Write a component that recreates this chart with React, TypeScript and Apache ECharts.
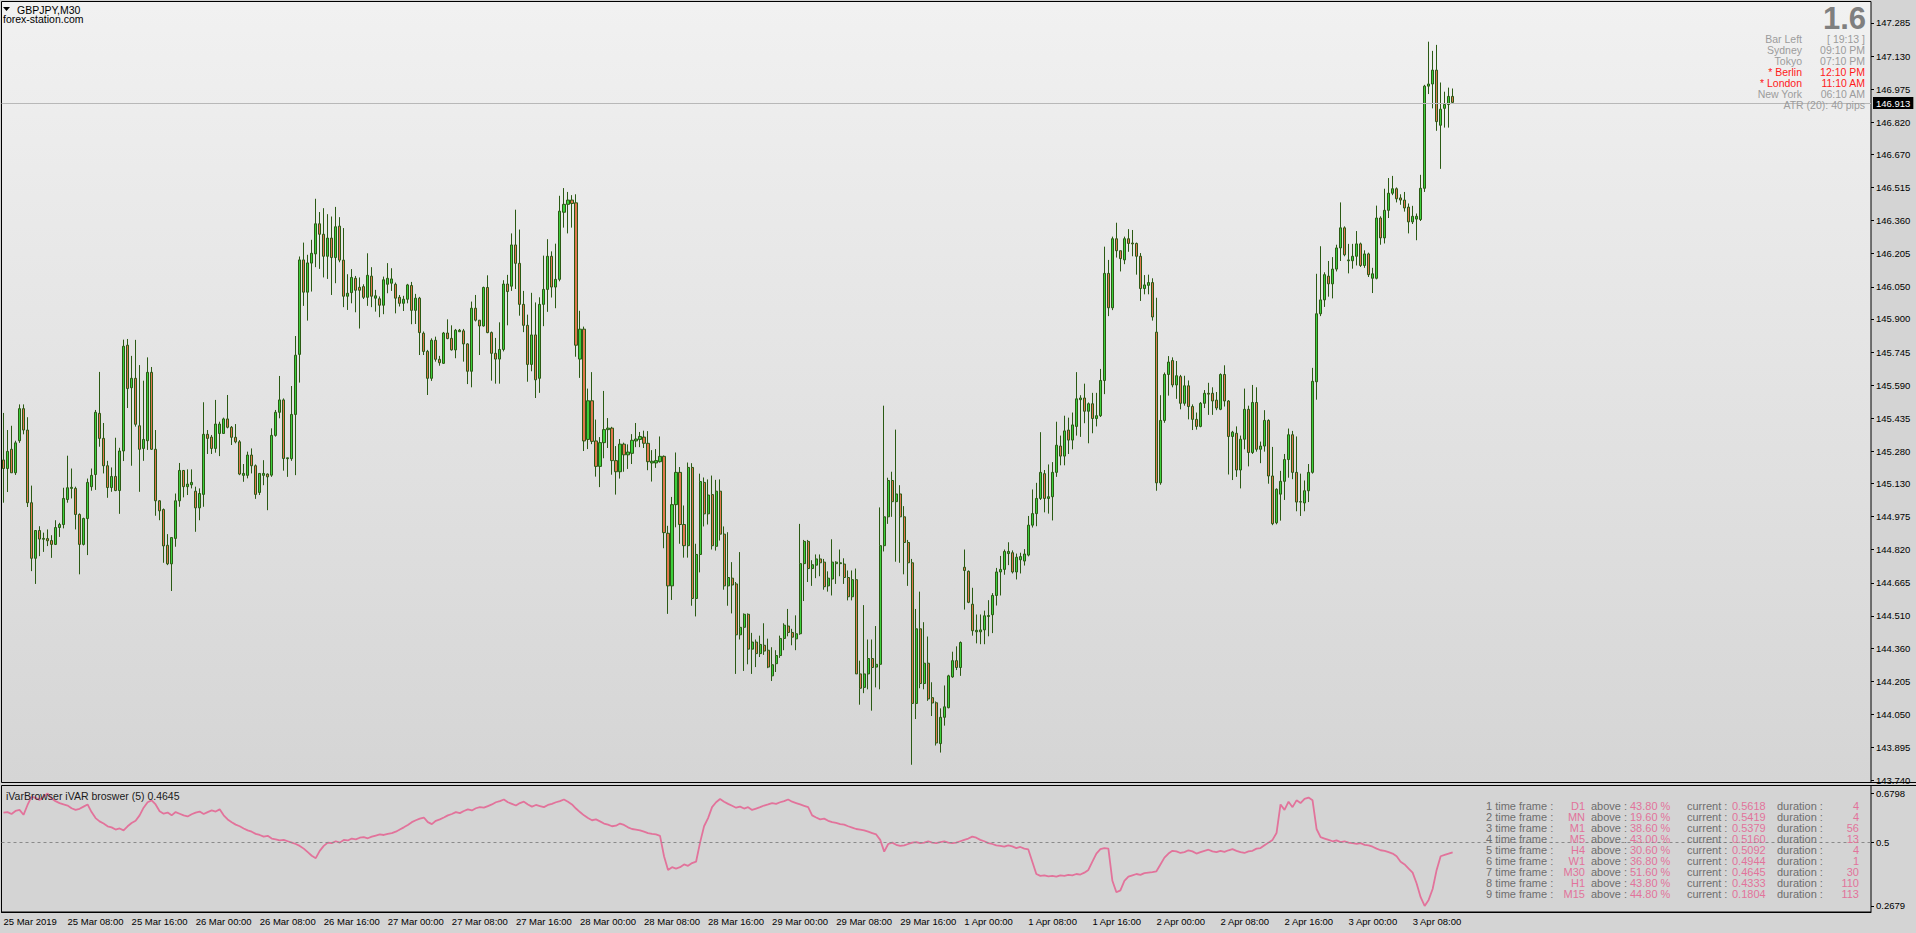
import React, { useEffect, useRef } from "react";
import * as echarts from "echarts";

// ---------- DATA ----------
// OHLC candles per trading day: [open, high, low, close]
const mar25: number[][] = [
  [145.24,145.46,145.04,145.20],[145.20,145.38,145.09,145.28],[145.29,145.40,145.18,145.18],[145.18,145.33,145.17,145.32],
  [145.33,145.50,145.32,145.48],[145.48,145.50,145.36,145.38],[145.38,145.44,145.02,145.04],[145.04,145.12,144.72,144.78],
  [144.78,144.91,144.66,144.91],[144.91,144.93,144.79,144.87],[144.869,144.90,144.81,144.873],[144.872,144.915,144.837,144.862],
  [144.863,144.888,144.782,144.845],[144.845,144.958,144.842,144.924],[144.924,144.946,144.880,144.938],[144.938,145.11,144.92,145.06],
  [145.055,145.26,145.04,145.11],[145.107,145.20,145.06,145.112],[145.107,145.115,144.915,144.985],[144.985,144.99,144.705,144.845],
  [144.845,144.97,144.84,144.966],[144.966,145.153,144.795,145.135],[145.115,145.20,145.096,145.168],[145.172,145.474,145.10,145.463],
  [145.458,145.652,145.302,145.341],[145.341,145.413,145.177,145.213],[145.213,145.236,145.063,145.111],[145.111,145.205,145.091,145.163],
  [145.163,145.344,145.094,145.097],[145.097,145.297,144.988,145.282],[145.282,145.803,145.235,145.772],[145.777,145.806,145.483,145.574],
  [145.578,145.727,145.213,145.622],[145.622,145.802,145.396,145.407],[145.40,145.684,145.091,145.29],[145.294,145.611,145.236,145.336],
  [145.33,145.72,145.287,145.65],[145.65,145.675,145.287,145.29],[145.29,145.38,144.979,145.049],[145.049,145.052,144.958,145.002],
  [145.008,145.013,144.759,144.838],[144.841,144.893,144.748,144.754],[144.754,144.877,144.627,144.877],[144.873,145.083,144.834,145.049],
  [145.049,145.226,145.021,145.191],[145.191,145.193,145.065,145.115],[145.115,145.196,145.076,145.127],[145.124,145.196,145.107,145.135],
];
const mar26: number[][] = [
  [145.094,145.115,144.904,145.016],[145.016,145.107,144.958,145.083],[145.079,145.51,145.021,145.36],[145.36,145.38,145.268,145.341],
  [145.347,145.357,145.268,145.294],[145.294,145.521,145.274,145.408],[145.364,145.419,145.258,145.408],[145.364,145.438,145.364,145.432],
  [145.432,145.544,145.388,145.393],[145.393,145.399,145.31,145.346],[145.346,145.408,145.318,145.325],[145.325,145.333,145.169,145.174],
  [145.168,145.221,145.138,145.177],[145.168,145.279,145.154,145.263],[145.263,145.294,145.177,145.213],[145.213,145.219,145.058,145.079],
  [145.088,145.177,145.076,145.177],[145.168,145.239,145.122,145.177],[145.174,145.177,145.005,145.161],[145.169,145.388,145.161,145.355],
  [145.355,145.474,145.349,145.463],[145.463,145.633,145.435,145.521],[145.521,145.528,145.19,145.247],[145.246,145.25,145.161,145.25],
  [145.246,145.586,145.236,145.453],[145.453,145.82,145.169,145.73],[145.734,146.192,145.602,146.176],[146.176,146.257,145.961,146.025],
  [146.025,146.20,145.892,146.162],[146.161,146.27,146.028,146.207],[146.204,146.462,146.142,146.345],[146.345,146.40,146.134,146.296],
  [146.296,146.418,146.094,146.193],[146.193,146.39,146.087,146.278],[146.278,146.379,146.012,146.187],[146.187,146.424,146.067,146.331],
  [146.334,146.376,146.165,146.175],[146.175,146.325,145.955,146.006],[146.006,146.109,145.942,146.02],[146.023,146.133,145.973,146.094],
  [146.09,146.101,145.931,146.034],[146.048,146.094,145.855,146.034],[146.051,146.062,145.993,146.001],[146.001,146.207,145.961,146.104],
  [146.10,146.142,145.955,146.006],[145.997,146.036,145.934,146.008],[145.994,146.005,145.908,145.964],[145.964,146.098,145.922,146.083],
];
const mar27: number[][] = [
  [146.062,146.161,146.02,146.09],[146.067,146.137,146.031,146.087],[146.062,146.07,145.926,145.997],[146.001,146.012,145.958,145.973],
  [145.973,146.008,145.937,145.992],[145.992,146.064,145.973,146.059],[146.056,146.073,145.875,145.94],[145.94,146.017,145.876,145.997],
  [145.997,146.003,145.731,145.836],[145.833,145.841,145.731,145.748],[145.748,145.755,145.544,145.622],[145.622,145.809,145.61,145.80],
  [145.80,145.817,145.70,145.711],[145.711,145.727,145.681,145.695],[145.692,145.839,145.689,145.834],[145.834,145.898,145.805,145.808],
  [145.809,145.87,145.752,145.755],[145.755,145.853,145.716,145.847],[145.84,145.853,145.84,145.847],[145.844,145.853,145.70,145.783],
  [145.783,145.786,145.595,145.655],[145.655,145.981,145.58,145.95],[145.95,146.012,145.888,145.894],[145.894,145.894,145.731,145.867],
  [145.867,146.051,145.864,146.047],[146.047,146.104,145.833,145.836],[145.836,145.841,145.611,145.739],[145.739,145.811,145.597,145.712],
  [145.712,145.884,145.597,145.757],[145.757,146.081,145.748,146.063],[146.063,146.106,145.87,146.028],[146.053,146.30,146.031,146.246],
  [146.246,146.411,146.04,146.16],[146.16,146.318,145.915,145.968],[145.968,146.031,145.838,145.87],[145.87,145.92,145.606,145.687],
  [145.687,146.022,145.655,145.825],[145.825,145.977,145.53,145.615],[145.622,146.001,145.554,145.968],[145.968,146.196,145.866,146.038],
  [146.038,146.273,145.933,146.193],[146.193,146.216,146.0,146.049],[146.049,146.252,145.95,146.085],[146.085,146.476,146.076,146.404],
  [146.399,146.512,146.327,146.436],[146.436,146.494,146.30,146.456],[146.456,146.479,146.327,146.44],[146.443,146.483,145.723,145.777],
];
const mar28: number[][] = [
  [145.712,145.938,145.624,145.852],[145.852,145.864,145.282,145.329],[145.336,145.574,145.291,145.517],[145.517,145.651,145.314,145.327],
  [145.329,145.429,145.162,145.21],[145.21,145.347,145.113,145.321],[145.321,145.563,145.248,145.382],[145.382,145.436,145.296,145.389],
  [145.389,145.395,145.171,145.237],[145.237,145.305,145.078,145.185],[145.185,145.338,145.153,145.314],[145.314,145.321,145.185,145.264],
  [145.264,145.313,145.198,145.277],[145.271,145.361,145.221,145.332],[145.329,145.413,145.30,145.338],[145.336,145.371,145.30,145.35],
  [145.347,145.377,145.296,145.318],[145.318,145.375,145.192,145.232],[145.226,145.286,145.139,145.234],[145.226,145.291,145.203,145.237],
  [145.232,145.35,145.228,145.257],[145.257,145.261,144.827,144.90],[144.897,144.932,144.52,144.651],[144.651,145.067,144.585,145.031],
  [145.031,145.275,144.925,145.182],[145.182,145.207,144.848,144.938],[144.938,145.027,144.783,144.839],[144.839,145.228,144.783,145.205],
  [145.205,145.225,144.558,144.592],[144.592,144.848,144.508,144.798],[144.798,145.176,144.714,145.139],[145.135,145.158,144.929,144.988],
  [144.988,145.149,144.938,145.076],[145.078,145.167,144.821,144.839],[144.836,145.147,144.816,145.094],[145.094,145.149,144.863,144.893],
  [144.893,144.929,144.633,144.651],[144.651,144.902,144.558,144.69],[144.687,144.762,144.522,144.655],[144.66,144.669,144.239,144.422],
  [144.422,144.809,144.40,144.457],[144.457,144.522,144.253,144.518],[144.518,144.522,144.284,144.355],[144.355,144.431,144.239,144.388],
  [144.388,144.40,144.271,144.334],[144.334,144.418,144.318,144.377],[144.373,144.476,144.328,144.346],[144.35,144.404,144.266,144.271],
];
const mar29: number[][] = [
  [144.23,144.364,144.206,144.282],[144.287,144.35,144.248,144.325],[144.325,144.418,144.314,144.405],[144.405,144.476,144.35,144.467],
  [144.463,144.543,144.415,144.433],[144.433,144.45,144.373,144.411],[144.403,144.513,144.35,144.427],[144.427,144.941,144.422,144.755],
  [144.755,144.866,144.58,144.859],[144.859,144.866,144.669,144.732],[144.732,144.771,144.651,144.75],[144.748,144.798,144.687,144.777],
  [144.777,144.798,144.696,144.759],[144.762,144.777,144.633,144.647],[144.651,144.719,144.624,144.687],[144.683,144.869,144.606,144.762],
  [144.755,144.766,144.66,144.762],[144.755,144.821,144.696,144.759],[144.753,144.78,144.66,144.69],[144.69,144.723,144.583,144.60],
  [144.60,144.723,144.583,144.68],[144.68,144.732,144.239,144.239],[144.239,144.301,144.095,144.172],[144.176,144.561,144.149,144.239],
  [144.239,144.40,144.167,144.311],[144.311,144.40,144.067,144.269],[144.271,144.463,144.176,144.284],[144.284,145.018,144.167,144.839],
  [144.839,145.494,144.812,144.974],[144.974,145.157,144.941,145.144],[145.144,145.185,144.974,145.045],[145.045,145.382,144.764,145.081],
  [145.081,145.122,144.759,144.974],[144.974,145.024,144.705,144.854],[144.854,144.866,144.651,144.759],[144.759,144.777,143.814,144.101],
  [144.101,144.543,144.028,144.45],[144.45,144.624,144.172,144.194],[144.194,144.481,144.167,144.289],[144.289,144.414,144.113,144.122],
  [144.128,144.20,144.042,144.103],[144.104,144.11,143.904,143.916],[143.913,144.078,143.871,144.036],[144.036,144.185,143.997,144.085],
  [144.081,144.235,144.078,144.23],[144.225,144.343,144.221,144.301],[144.301,144.368,144.257,144.269],[144.269,144.391,144.23,144.386],
];
const apr01: number[][] = [
  [144.738,144.821,144.54,144.723],[144.719,144.723,144.57,144.574],[144.565,144.642,144.418,144.441],[144.436,144.517,144.382,144.443],
  [144.436,144.517,144.378,144.445],[144.445,144.535,144.378,144.511],[144.508,144.584,144.415,144.512],[144.516,144.617,144.43,144.606],
  [144.606,144.735,144.559,144.716],[144.716,144.791,144.606,144.728],[144.728,144.821,144.703,144.812],[144.802,144.855,144.748,144.812],
  [144.806,144.817,144.709,144.716],[144.716,144.802,144.681,144.785],[144.773,144.806,144.709,144.788],[144.767,144.823,144.746,144.80],
  [144.795,144.978,144.789,144.935],[144.935,145.102,144.924,144.989],[144.989,145.133,144.93,145.06],[145.06,145.37,145.053,145.182],
  [145.176,145.193,144.995,145.06],[145.06,145.219,144.989,145.068],[145.068,145.23,144.957,145.182],[145.182,145.419,145.161,145.309],
  [145.305,145.354,145.215,145.258],[145.258,145.447,145.215,145.376],[145.38,145.438,145.268,145.333],[145.333,145.462,145.29,145.404],
  [145.397,145.651,145.354,145.526],[145.522,145.543,145.348,145.53],[145.53,145.597,145.412,145.468],[145.468,145.509,145.318,145.503],
  [145.503,145.554,145.365,145.434],[145.434,145.554,145.397,145.447],[145.447,145.666,145.441,145.612],[145.612,146.238,145.548,146.113],
  [146.113,146.176,145.913,145.952],[145.952,146.285,145.941,146.275],[146.275,146.35,146.187,146.219],[146.219,146.219,146.122,146.182],
  [146.176,146.285,146.156,146.275],[146.275,146.32,146.214,146.253],[146.255,146.316,146.193,146.251],[146.253,146.257,146.107,146.193],
  [146.193,146.208,145.984,146.042],[146.042,146.105,146.015,146.059],[146.057,146.107,146.015,146.07],[146.07,146.09,145.892,145.909],
];
const apr02: number[][] = [
  [145.838,145.999,145.096,145.133],[145.133,145.543,145.124,145.425],[145.425,145.649,145.414,145.64],[145.64,145.726,145.541,145.698],
  [145.705,145.72,145.58,145.591],[145.591,145.703,145.526,145.634],[145.63,145.638,145.477,145.505],[145.505,145.634,145.494,145.587],
  [145.587,145.612,145.43,145.49],[145.49,145.50,145.38,145.43],[145.43,145.462,145.382,145.397],[145.397,145.511,145.393,145.505],
  [145.505,145.567,145.483,145.552],[145.552,145.601,145.451,145.548],[145.552,145.58,145.451,145.516],[145.52,145.558,145.473,145.483],
  [145.477,145.645,145.473,145.64],[145.64,145.683,145.49,145.516],[145.516,145.52,145.172,145.35],[145.35,145.376,145.146,145.37],
  [145.365,145.397,145.161,145.193],[145.193,145.354,145.107,145.337],[145.337,145.574,145.29,145.477],[145.477,145.494,145.21,145.275],
  [145.275,145.591,145.268,145.509],[145.509,145.58,145.279,145.29],[145.29,145.326,145.225,145.305],[145.305,145.473,145.279,145.425],
  [145.425,145.43,145.129,145.165],[145.165,145.301,144.935,144.942],[144.946,145.107,144.939,145.103],[145.08,145.189,144.956,145.14],
  [145.14,145.268,145.053,145.242],[145.242,145.387,145.157,145.358],[145.358,145.376,145.15,145.182],[145.182,145.35,145.0,145.043],
  [145.043,145.176,144.978,145.045],[145.039,145.144,145.0,145.096],[145.096,145.221,145.043,145.182],[145.182,145.671,145.176,145.608],
  [145.606,146.111,145.522,145.924],[145.924,146.24,145.913,145.989],[145.989,146.118,145.956,146.107],[146.10,146.171,146.004,146.064],
  [146.064,146.189,145.996,146.133],[146.133,146.247,146.122,146.232],[146.232,146.445,146.171,146.326],[146.326,146.333,146.193,146.20],
];
const apr03: number[][] = [
  [146.172,146.251,146.113,146.176],[146.172,146.251,146.135,146.193],[146.193,146.311,146.15,146.251],[146.251,146.257,146.143,146.15],
  [146.15,146.221,146.139,146.204],[146.204,146.21,146.096,146.107],[146.09,146.139,146.021,146.111],[146.09,146.43,146.085,146.372],
  [146.372,146.38,146.247,146.279],[146.279,146.509,146.253,146.408],[146.408,146.559,146.372,146.488],[146.488,146.569,146.479,146.509],
  [146.509,146.515,146.445,146.462],[146.466,146.483,146.434,146.456],[146.456,146.494,146.402,146.419],[146.423,146.44,146.30,146.354],
  [146.354,146.429,146.344,146.38],[146.367,146.393,146.268,146.38],[146.365,146.574,146.358,146.511],[146.511,146.995,146.494,146.989],
  [146.989,147.197,146.952,146.999],[146.999,147.154,146.885,147.064],[147.064,147.182,146.78,146.823],[146.806,147.006,146.602,146.881],
  [146.885,146.963,146.795,146.903],[146.903,146.982,146.795,146.941],[146.941,146.978,146.907,146.913],
];

// iVAR browser indicator values, per trading day
const ivarMar25 = [0.61,0.612,0.605,0.616,0.62,0.602,0.638,0.668,0.664,0.656,0.668,0.6798,0.662,0.652,0.645,0.64,0.636,0.626,0.62,0.624,0.632,0.64,0.612,0.59,0.578,0.57,0.56,0.556,0.548,0.552,0.545,0.56,0.572,0.58,0.6,0.628,0.648,0.655,0.64,0.615,0.606,0.61,0.6,0.612,0.606,0.6,0.596,0.604];
const ivarMar26 = [0.61,0.614,0.605,0.612,0.618,0.614,0.622,0.6,0.585,0.575,0.566,0.56,0.552,0.545,0.54,0.532,0.528,0.522,0.525,0.515,0.512,0.508,0.51,0.505,0.5,0.495,0.488,0.478,0.465,0.452,0.443,0.47,0.488,0.5,0.498,0.505,0.5,0.51,0.508,0.515,0.512,0.518,0.52,0.516,0.522,0.526,0.53,0.528];
const ivarMar27 = [0.532,0.535,0.54,0.548,0.556,0.565,0.575,0.582,0.588,0.592,0.575,0.568,0.58,0.585,0.592,0.6,0.605,0.612,0.608,0.616,0.622,0.618,0.626,0.63,0.628,0.634,0.64,0.648,0.652,0.658,0.648,0.642,0.636,0.645,0.65,0.64,0.632,0.638,0.634,0.63,0.638,0.642,0.648,0.652,0.658,0.65,0.64,0.625];
const ivarMar28 = [0.612,0.6,0.59,0.582,0.585,0.578,0.57,0.566,0.56,0.562,0.57,0.565,0.556,0.55,0.548,0.545,0.54,0.535,0.532,0.53,0.525,0.45,0.4,0.41,0.405,0.41,0.42,0.415,0.425,0.43,0.5,0.56,0.59,0.63,0.648,0.66,0.65,0.642,0.635,0.628,0.632,0.625,0.63,0.62,0.625,0.63,0.636,0.64];
const ivarMar29 = [0.645,0.642,0.648,0.652,0.658,0.65,0.645,0.64,0.635,0.63,0.6,0.592,0.585,0.588,0.58,0.575,0.572,0.568,0.566,0.56,0.555,0.55,0.548,0.545,0.54,0.535,0.53,0.51,0.467,0.495,0.5,0.492,0.488,0.49,0.495,0.5,0.502,0.498,0.5,0.505,0.5,0.498,0.502,0.505,0.5,0.498,0.5,0.505];
const ivarApr01 = [0.51,0.515,0.522,0.518,0.51,0.505,0.498,0.495,0.49,0.488,0.485,0.49,0.486,0.48,0.484,0.478,0.475,0.43,0.385,0.378,0.38,0.376,0.378,0.375,0.38,0.378,0.382,0.38,0.385,0.383,0.39,0.4,0.43,0.46,0.476,0.48,0.478,0.36,0.318,0.325,0.36,0.375,0.38,0.385,0.382,0.388,0.39,0.392];
const ivarApr02 = [0.395,0.42,0.445,0.46,0.47,0.468,0.462,0.465,0.472,0.468,0.46,0.465,0.47,0.474,0.468,0.465,0.47,0.466,0.472,0.476,0.47,0.465,0.462,0.468,0.47,0.478,0.48,0.49,0.5,0.51,0.535,0.64,0.62,0.65,0.63,0.655,0.645,0.66,0.665,0.655,0.55,0.52,0.515,0.51,0.505,0.508,0.502,0.505];
const ivarApr03 = [0.5,0.498,0.495,0.498,0.492,0.49,0.485,0.478,0.472,0.47,0.465,0.46,0.45,0.43,0.42,0.405,0.39,0.35,0.3,0.2679,0.29,0.33,0.4,0.45,0.455,0.46,0.4645];

// Axis tick labels
const priceTickLabels = ["143.740","143.895","144.050","144.205","144.360","144.510","144.665","144.820","144.975","145.130","145.280","145.435","145.590","145.745","145.900","146.050","146.205","146.360","146.515","146.670","146.820","146.975","147.130","147.285"];
const ivarTickLabels = ["0.2679", "0.5", "0.6798"];
const tradingDays = ["25 Mar", "26 Mar", "27 Mar", "28 Mar", "29 Mar", "1 Apr", "2 Apr", "3 Apr", "4 Apr", "5 Apr"];
const firstLabel = "25 Mar 2019";

// Info panel
const spreadText = "1.6";
const sessionNames = ["Bar Left", "Sydney", "Tokyo", "* Berlin", "* London", "New York"];
const sessionTimes = ["[ 19:13 ]", "09:10 PM", "07:10 PM", "12:10 PM", "11:10 AM", "06:10 AM"];
const sessionActive = [false, false, false, true, true, false];
const atrText = "ATR (20): 40 pips";

// iVAR table
const tfNames = ["D1", "MN", "M1", "M5", "H4", "W1", "M30", "H1", "M15"];
const abovePct = ["43.80 %", "19.60 %", "38.60 %", "43.00 %", "30.60 %", "36.80 %", "51.60 %", "43.80 %", "44.80 %"];
const currentVals = ["0.5618", "0.5419", "0.5379", "0.5160", "0.5092", "0.4944", "0.4645", "0.4333", "0.1804"];
const durations = ["4", "4", "56", "13", "4", "1", "30", "110", "113"];

// ---------- BUILD ----------
const candles = [...mar25, ...mar26, ...mar27, ...mar28, ...mar29, ...apr01, ...apr02, ...apr03];
const ivar = [...ivarMar25, ...ivarMar26, ...ivarMar27, ...ivarMar28, ...ivarMar29, ...ivarApr01, ...ivarApr02, ...ivarApr03];
const N_SLOTS = 467;
const categories = Array.from({ length: N_SLOTS }, (_, i) => {
  if (i === 0) return firstLabel;
  const d = tradingDays[Math.floor(i / 48)];
  const m = (i % 48) * 30;
  const hh = String(Math.floor(m / 60)).padStart(2, "0");
  const mm = String(m % 60).padStart(2, "0");
  return `${d} ${hh}:${mm}`;
});
const lastClose = candles[candles.length - 1][3];
const lastIvar = ivar[ivar.length - 1];

const FONT = '"Liberation Sans", Arial, sans-serif';
const GREY = "#9c9c9c";
const PINK = "#e2739b";
const TGREY = "#6e6e6e";

function txt(text: string, x: number, y: number, fill: string, size: number, align = "left", bold = false) {
  return {
    type: "text",
    x,
    y,
    z: 100,
    silent: true,
    style: {
      text,
      fill,
      font: `${bold ? "bold " : ""}${size}px ${FONT}`,
      textAlign: align,
      textVerticalAlign: "middle",
    },
  };
}

export default function App() {
  const ref = useRef<HTMLDivElement>(null);
  useEffect(() => {
    if (!ref.current) return;
    const chart = echarts.init(ref.current, null, { renderer: "svg" });
    const tickFn = (idx: number) => idx % 16 === 0 && idx < candles.length;

    const graphics: any[] = [];
    graphics.push({
      type: "polygon",
      z: 100,
      silent: true,
      shape: { points: [[3, 7], [10, 7], [6.5, 11]] },
      style: { fill: "#000" },
    });
    graphics.push(txt("GBPJPY,M30", 17, 9.5, "#000", 10.5));
    graphics.push(txt("forex-station.com", 3, 18.5, "#000", 10.5));
    graphics.push(txt(spreadText, 1866, 18, "#7f7f7f", 31, "right", true));
    sessionNames.forEach((n, k) => {
      const y = 39 + k * 10.9;
      const col = sessionActive[k] ? "#ff1a1a" : GREY;
      graphics.push(txt(n, 1802, y, col, 10.5, "right"));
      graphics.push(txt(sessionTimes[k], 1865, y, col, 10.5, "right"));
    });
    graphics.push(txt(atrText, 1865, 105, GREY, 10.5, "right"));
    graphics.push(txt(`iVarBrowser iVAR broswer (5) ${lastIvar}`, 6, 795.5, "#1a1a1a", 10.5));
    tfNames.forEach((tf, k) => {
      const y = 805.7 + k * 11;
      graphics.push(txt(`${k + 1} time frame :`, 1486, y, TGREY, 11));
      graphics.push(txt(tf, 1585, y, PINK, 11, "right"));
      graphics.push(txt("above :", 1591, y, TGREY, 11));
      graphics.push(txt(abovePct[k], 1630, y, PINK, 11));
      graphics.push(txt("current :", 1687, y, TGREY, 11));
      graphics.push(txt(currentVals[k], 1732, y, PINK, 11));
      graphics.push(txt("duration :", 1777, y, TGREY, 11));
      graphics.push(txt(durations[k], 1859, y, PINK, 11, "right"));
    });
    // pane separators across the price-scale column
    graphics.push({ type: "line", z: 100, silent: true, shape: { x1: 1871, y1: 782.5, x2: 1916, y2: 782.5 }, style: { stroke: "#000", lineWidth: 1 } });
    graphics.push({ type: "line", z: 100, silent: true, shape: { x1: 1871, y1: 785.5, x2: 1916, y2: 785.5 }, style: { stroke: "#000", lineWidth: 1 } });

    const option: any = {
      animation: false,
      backgroundColor: "#d4d4d4",
      textStyle: { fontFamily: FONT },
      grid: [
        {
          left: 1.5, top: 1.5, width: 1869.5, height: 781,
          show: true, borderColor: "#000", borderWidth: 1,
          backgroundColor: new echarts.graphic.LinearGradient(0, 0, 0, 1, [
            { offset: 0, color: "#f1f1f1" },
            { offset: 1, color: "#d5d5d5" },
          ]),
        },
        {
          left: 1.5, top: 785.5, width: 1869.5, height: 126.5,
          show: true, borderColor: "#000", borderWidth: 1, backgroundColor: "#d4d4d4",
        },
      ],
      xAxis: [
        { type: "category", gridIndex: 0, data: categories, boundaryGap: true, show: false },
        {
          type: "category", gridIndex: 1, data: categories, boundaryGap: true,
          axisLine: { lineStyle: { color: "#000", width: 1 } },
          axisTick: { alignWithLabel: true, interval: tickFn, length: 4, lineStyle: { color: "#000" } },
          axisLabel: { interval: tickFn, align: "left", color: "#000", fontSize: 9.5, margin: 4, fontFamily: FONT },
          splitLine: { show: false },
        },
      ],
      yAxis: [
        {
          type: "value", gridIndex: 0, position: "right",
          min: 143.731, max: 147.385, scale: true,
          splitLine: { show: false },
          axisLine: { show: false },
          axisTick: { show: true, length: 3, customValues: priceTickLabels.map(Number), lineStyle: { color: "#000" } },
          axisLabel: {
            customValues: priceTickLabels.map(Number),
            formatter: (v: number) => v.toFixed(3),
            color: "#000", fontSize: 9.5, margin: 5, fontFamily: FONT,
          },
        },
        {
          type: "value", gridIndex: 1, position: "right",
          min: 0.2457, max: 0.7094, scale: true,
          splitLine: { show: false },
          axisLine: { show: false },
          axisTick: { show: true, length: 3, customValues: ivarTickLabels.map(Number), lineStyle: { color: "#000" } },
          axisLabel: {
            customValues: ivarTickLabels.map(Number),
            formatter: (v: number) => ivarTickLabels.find((s) => Number(s) === v) ?? String(v),
            color: "#000", fontSize: 9.5, margin: 5, fontFamily: FONT,
          },
        },
      ],
      series: [
        {
          type: "candlestick",
          xAxisIndex: 0, yAxisIndex: 0,
          barWidth: 2.6,
          data: candles.map((c) => [c[0], c[3], c[2], c[1]]),
          itemStyle: {
            color: "#3ccf3c", color0: "#e0764e",
            borderColor: "#2b5a14", borderColor0: "#2b5a14", borderWidth: 1,
          },
          markLine: {
            silent: true, symbol: "none",
            data: [{ yAxis: lastClose }],
            lineStyle: { color: "#b8b8b8", type: "solid", width: 1 },
            label: {
              show: true, position: "end", distance: 2,
              formatter: lastClose.toFixed(3),
              color: "#fff", backgroundColor: "#000", padding: [1, 3, 1, 3],
              fontSize: 9.5, fontFamily: FONT,
            },
          },
        },
        {
          type: "line",
          xAxisIndex: 1, yAxisIndex: 1,
          data: ivar,
          showSymbol: false,
          lineStyle: { color: PINK, width: 1.8 },
          markLine: {
            silent: true, symbol: "none",
            data: [{ yAxis: 0.5 }],
            lineStyle: { color: "#8a8a8a", type: [3, 3], width: 1 },
            label: { show: false },
          },
        },
      ],
      graphic: { elements: graphics },
    };
    chart.setOption(option);
    return () => chart.dispose();
  }, []);
  return <div ref={ref} style={{ position: "fixed", left: 0, top: 0, width: 1916, height: 933 }} />;
}
